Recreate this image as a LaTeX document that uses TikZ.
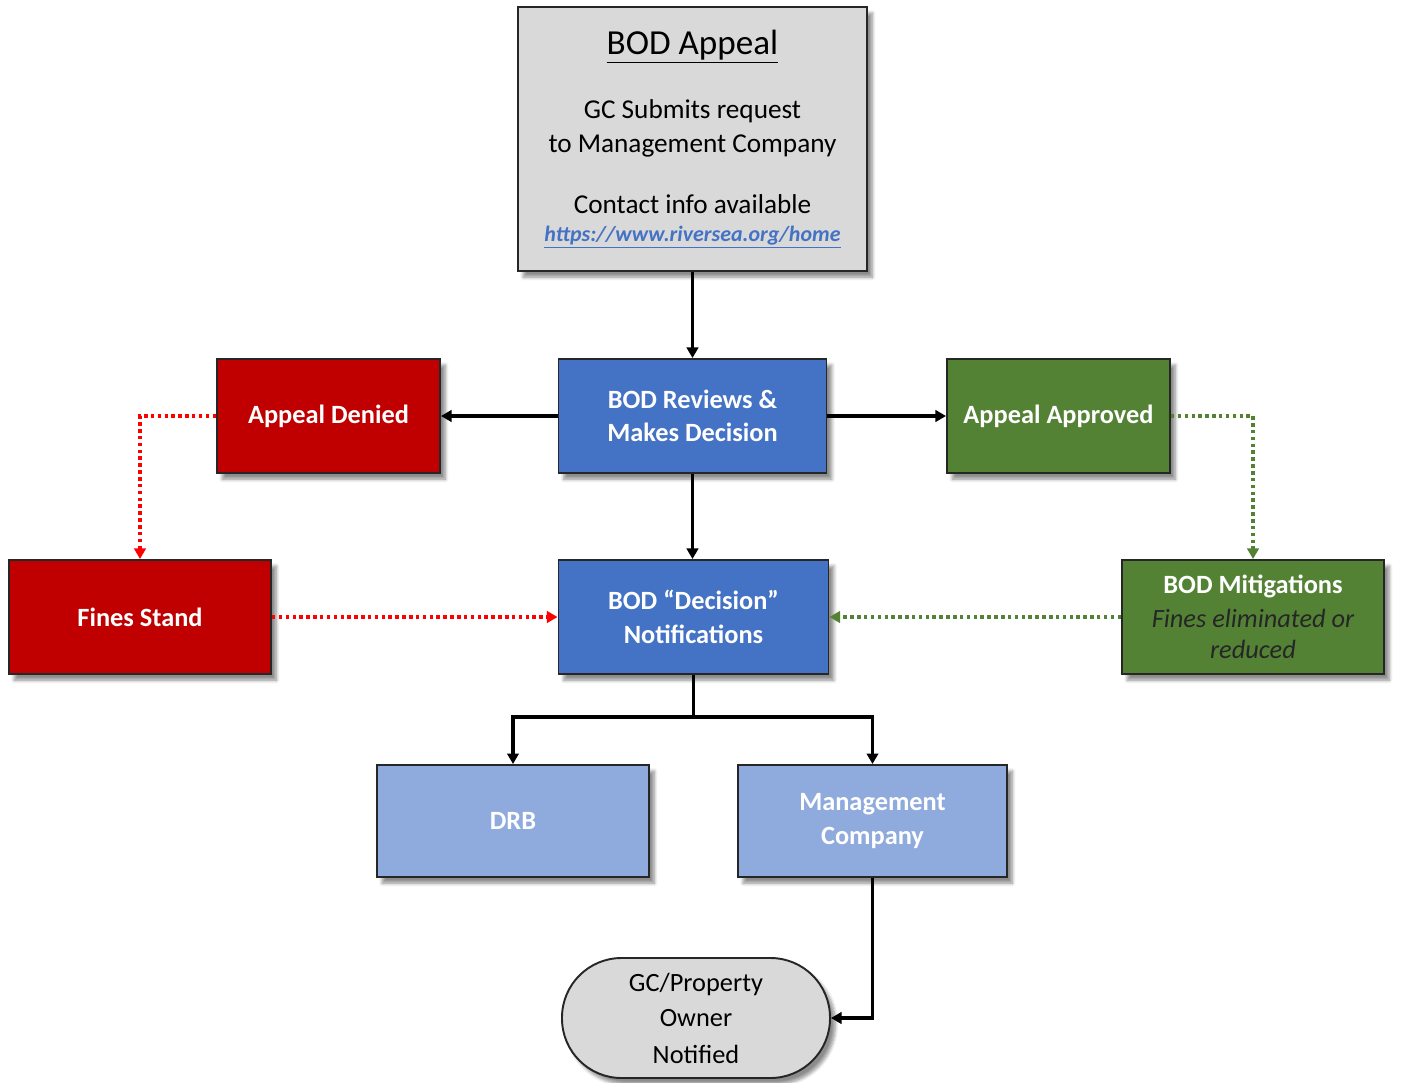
\documentclass[tikz,border=0pt]{standalone}
\usepackage{fontspec}
\setmainfont{Carlito}
\usetikzlibrary{arrows.meta,shadows.blur}
\definecolor{boxgray}{HTML}{D9D9D9}
\definecolor{bodblue}{HTML}{4472C4}
\definecolor{lightblue}{HTML}{8FAADC}
\definecolor{denyred}{HTML}{C00000}
\definecolor{okgreen}{HTML}{548235}
\definecolor{linkblue}{HTML}{4472C4}
\definecolor{edge}{HTML}{262626}

\tikzset{
  box/.style={draw=edge, line width=1.1pt, inner sep=0pt, align=center,
    font=\fontsize{15}{19}\selectfont,
    blur shadow={shadow xshift=3pt, shadow yshift=-3.5pt, shadow blur steps=6, shadow opacity=45}},
  colorbox/.style={box, text=white, font=\fontsize{15}{19}\selectfont\bfseries},
  solidarr/.style={line width=2pt, -{Triangle[length=6pt,width=6.5pt]}},
  dotarr/.style={line width=2.1pt, dash pattern=on 2pt off 1.9pt, -{Triangle[length=6pt,width=6.5pt]}}
}

\begin{document}
\begin{tikzpicture}
			%%%%% START %%%%%
			\useasboundingbox (0, 0) rectangle (28.22, -21.64);
			
			\node[box, fill=boxgray, minimum width=6.98cm, minimum height=5.28cm,
				font=\fontsize{15.5}{19.5}\selectfont] (appeal) at (13.85, -2.78)
				{{\fontsize{20}{24}\selectfont\underline{BOD Appeal}}\\[17pt]
				 GC Submits request\\ to Management Company\\[15pt]
				 Contact info available\\[-3.5pt]
				 {\color{linkblue}\fontsize{12.5}{15}\selectfont\bfseries\itshape\underline{https://www.riversea.org/home}}};
			
			\node[colorbox, fill=bodblue, minimum width=5.36cm, minimum height=2.28cm] (review) at (13.85, -8.32) {BOD Reviews \&\\ Makes Decision};
			\node[colorbox, fill=denyred, minimum width=4.46cm, minimum height=2.28cm] (denied) at (6.57, -8.32) {Appeal Denied};
			\node[colorbox, fill=okgreen, minimum width=4.46cm, minimum height=2.28cm] (approved) at (21.17, -8.32) {Appeal Approved};
			
			\node[colorbox, fill=denyred, minimum width=5.24cm, minimum height=2.28cm] (fines) at (2.8, -12.34) {Fines Stand};
			\node[colorbox, fill=bodblue, minimum width=5.4cm, minimum height=2.28cm] (decision) at (13.87, -12.34) {BOD “Decision”\\ Notifications};
			\node[colorbox, fill=okgreen, minimum width=5.24cm, minimum height=2.28cm] (mitig) at (25.06, -12.34)
				{BOD Mitigations\\ {\color{black!85}\mdseries\itshape Fines eliminated or}\\[-1pt] {\color{black!85}\mdseries\itshape reduced}};
			
			\node[colorbox, fill=lightblue, minimum width=5.44cm, minimum height=2.24cm] (drb) at (10.26, -16.42) {DRB};
			\node[colorbox, fill=lightblue, minimum width=5.38cm, minimum height=2.24cm] (mgmt) at (17.45, -16.42) {Management\\ Company};
			
			\node[box, fill=boxgray, rounded corners=1.19cm, minimum width=5.36cm, minimum height=2.4cm] (owner) at (13.92, -20.36)
				{GC/Property\\[1pt] Owner\\[2pt] Notified};
			
			\coordinate (split) at (13.87, -14.34);
			
			\draw[solidarr] (appeal.south) -- (review.north);
			\draw[solidarr] (review.west) -- (denied.east);
			\draw[solidarr] (review.east) -- (approved.west);
			\draw[solidarr] (review.south) -- (review.south |- decision.north);
			
			\draw[dotarr, red] (denied.west) -| (fines.north);
			\draw[dotarr, red] (fines.east) -- (decision.west);
			\draw[dotarr, okgreen] (approved.east) -| (mitig.north);
			\draw[dotarr, okgreen] (mitig.west) -- (decision.east);
			
			\draw[solidarr] (decision.south) -- (split) -| (drb.north);
			\draw[solidarr] (decision.south) -- (split) -| (mgmt.north);
			\draw[solidarr] (mgmt.south) |- (owner.east);
			%%%%% END %%%%%
\end{tikzpicture}
\end{document}
